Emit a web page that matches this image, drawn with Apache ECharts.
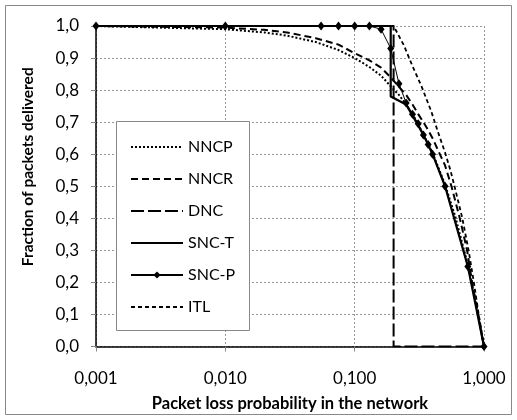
<!DOCTYPE html>
<html><head><meta charset="utf-8">
<script src="https://cdn.jsdelivr.net/npm/echarts@6/dist/echarts.min.js"></script>
<style>html,body{margin:0;padding:0;background:#fff}#c{width:517px;height:420px}</style>
</head><body><div id="c"></div>
<script>
// Series names
const seriesNames = ['NNCP', 'NNCR', 'DNC', 'SNC-T', 'SNC-P', 'ITL'];

// Packet loss probability (x) and fraction delivered (y) per series
const nncpP = [0.001, 0.01, 0.02, 0.03, 0.05, 0.075, 0.1, 0.13, 0.16, 0.19, 0.22, 0.25, 0.3, 0.4, 0.5, 0.6, 0.75, 0.9, 1.0];
const nncpY = [1.0, 0.99, 0.98, 0.97, 0.95, 0.925, 0.9, 0.872, 0.845, 0.812, 0.785, 0.755, 0.705, 0.605, 0.505, 0.405, 0.255, 0.105, 0.0];

const nncrP = [0.001, 0.01, 0.02, 0.03, 0.05, 0.075, 0.1, 0.13, 0.16, 0.19, 0.22, 0.25, 0.28, 0.31, 0.34, 0.37, 0.4, 0.45, 0.5, 0.56, 0.65, 0.74, 0.81, 0.9, 1.0];
const nncrY = [1.0, 0.995, 0.988, 0.98, 0.962, 0.942, 0.915, 0.893, 0.87, 0.84, 0.81, 0.785, 0.755, 0.725, 0.70, 0.675, 0.65, 0.605, 0.565, 0.50, 0.40, 0.30, 0.20, 0.10, 0.0];

const dncP = [0.001, 0.2, 0.2, 1.0];
const dncY = [1.0, 1.0, 0.0, 0.0];

const snctP = [0.001, 0.19, 0.19, 0.25, 0.28, 0.31, 0.34, 0.37, 0.4, 0.5, 0.75, 1.0];
const snctY = [1.0, 1.0, 0.78, 0.755, 0.72, 0.69, 0.66, 0.63, 0.60, 0.50, 0.25, 0.0];

const sncpP = [0.001, 0.01, 0.055, 0.075, 0.1, 0.13, 0.16, 0.19, 0.22, 0.25, 0.28, 0.31, 0.34, 0.37, 0.4, 0.5, 0.75, 1.0];
const sncpY = [1.0, 1.0, 1.0, 1.0, 1.0, 1.0, 0.99, 0.93, 0.82, 0.76, 0.725, 0.695, 0.66, 0.63, 0.60, 0.50, 0.25, 0.0];

const itlP = [0.001, 0.2, 0.24, 0.28, 0.33, 0.39, 0.44, 0.5, 0.55, 0.6, 0.68, 0.76, 0.835, 0.91, 1.0];
const itlY = [1.0, 1.0, 0.94, 0.875, 0.81, 0.735, 0.67, 0.605, 0.55, 0.49, 0.40, 0.30, 0.20, 0.10, 0.0];

// Axis settings
const xMin = 0.001, xMax = 1.0;
const yMin = 0, yMax = 1, yStep = 0.1;
const xTitle = 'Packet loss probability in the network';
const yTitle = 'Fraction of packets delivered';

const zip = (a, b) => a.map((v, i) => [v, b[i]]);
const FONT = 'Lato';

const chart = echarts.init(document.getElementById('c'), null, {renderer: 'canvas'});
const lineBase = {type: 'line', symbol: 'none', animation: false, smooth: false, itemStyle: {color: '#000'}};

chart.setOption({
  animation: false,
  backgroundColor: '#fff',
  textStyle: {fontFamily: FONT, color: '#000'},
  grid: {left: 96, top: 26, width: 388, height: 320.5, containLabel: false},
  xAxis: {
    type: 'log', logBase: 10, min: xMin, max: xMax,
    name: xTitle, nameLocation: 'middle', nameGap: 49,
    nameTextStyle: {fontFamily: FONT, fontSize: 16.5, fontWeight: 'bold', color: '#000'},
    axisLine: {show: true, onZero: false, lineStyle: {color: '#000', width: 1.5}},
    axisTick: {show: true, length: 5, lineStyle: {color: '#888'}},
    axisLabel: {fontFamily: FONT, fontSize: 17, color: '#000', margin: 24,
      formatter: v => v.toFixed(3).replace('.', ',')},
    splitLine: {show: true, lineStyle: {color: '#999', type: [2, 2], width: 1}},
    minorTick: {show: false}
  },
  yAxis: {
    type: 'value', min: yMin, max: yMax, interval: yStep,
    name: yTitle, nameLocation: 'middle', nameGap: 60, nameRotate: 90,
    nameTextStyle: {fontFamily: FONT, fontSize: 15.5, fontWeight: 'bold', color: '#000',
      padding: [0, 0, 0, 39]},
    axisLine: {show: true, lineStyle: {color: '#000', width: 1.5}},
    axisTick: {show: true, length: 5, lineStyle: {color: '#888'}},
    axisLabel: {fontFamily: FONT, fontSize: 17, color: '#000', margin: 17,
      formatter: v => v.toFixed(1).replace('.', ',')},
    splitLine: {show: true, lineStyle: {color: '#999', type: [2, 2], width: 1}}
  },
  legend: {
    orient: 'vertical', left: 130, top: 139, z: 200,
    itemWidth: 52, itemHeight: 9, itemGap: 16, padding: 0,
    textStyle: {fontFamily: FONT, fontSize: 16, color: '#000', lineHeight: 14},
    data: seriesNames.map(n => n === 'SNC-P' ? {name: n} : {name: n, itemStyle: {opacity: 0}})
  },
  graphic: {
    elements: [
      {type: 'rect', z: 0, shape: {x: 5.5, y: 5.5, width: 506, height: 409},
        style: {fill: null, stroke: '#888', lineWidth: 1}, silent: true},
      {type: 'rect', z: 100, shape: {x: 116.5, y: 121.5, width: 133, height: 209},
        style: {fill: '#fff', stroke: '#888', lineWidth: 1}, silent: true}
    ]
  },
  series: [
    Object.assign({}, lineBase, {name: seriesNames[0], data: zip(nncpP, nncpY),
      lineStyle: {color: '#000', width: 2, type: [2, 2]}}),
    Object.assign({}, lineBase, {name: seriesNames[1], data: zip(nncrP, nncrY),
      lineStyle: {color: '#000', width: 2, type: [7, 4]}}),
    Object.assign({}, lineBase, {name: seriesNames[2], data: zip(dncP, dncY),
      lineStyle: {color: '#000', width: 2, type: [13, 4]}}),
    Object.assign({}, lineBase, {name: seriesNames[3], data: zip(snctP, snctY),
      lineStyle: {color: '#000', width: 2.2, type: 'solid'}}),
    Object.assign({}, lineBase, {name: seriesNames[4], data: zip(sncpP, sncpY),
      symbol: 'diamond', symbolSize: [7, 9], showSymbol: true,
      lineStyle: {color: '#000', width: 1, type: 'solid'}}),
    Object.assign({}, lineBase, {name: seriesNames[5], data: zip(itlP, itlY),
      lineStyle: {color: '#000', width: 1.8, type: [4, 3]}})
  ]
});
</script>
</body></html>
